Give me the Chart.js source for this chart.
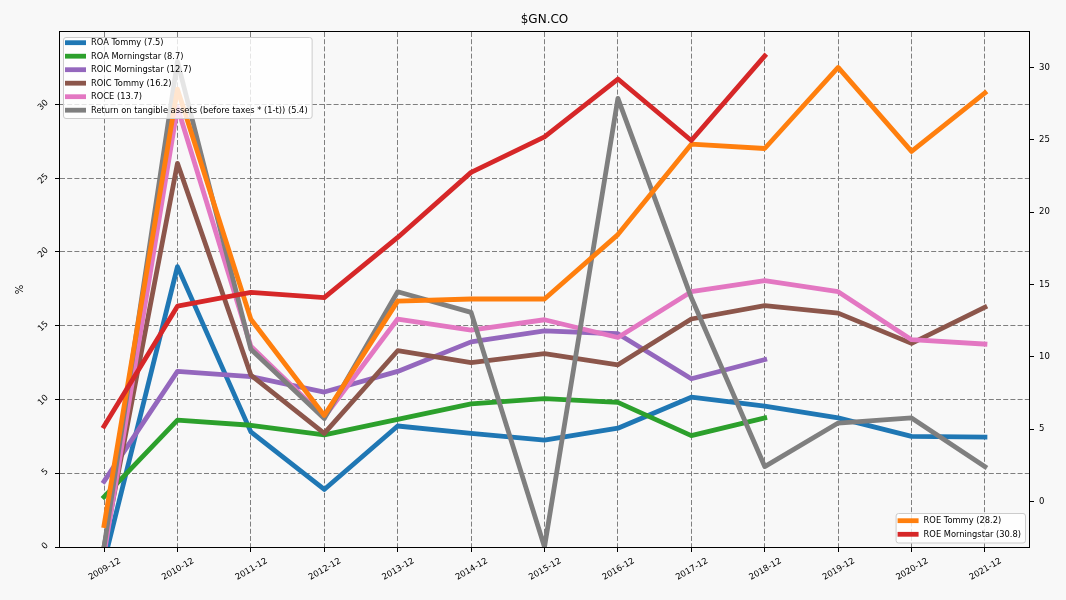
<!DOCTYPE html>
<html>
<head>
<meta charset="utf-8">
<script src="https://cdn.jsdelivr.net/npm/chart.js@4.4.1/dist/chart.umd.min.js"></script>
<style>
html, body { margin: 0; padding: 0; background: #f8f8f8; }
#wrap { width: 1066px; height: 600px; position: relative; }
</style>
</head>
<body>
<div id="wrap"><canvas id="c" width="1066" height="600"></canvas></div>
<script>
// ---- data ----
const chartTitle = '$GN.CO';
const categories = ['2009-12','2010-12','2011-12','2012-12','2013-12','2014-12','2015-12','2016-12','2017-12','2018-12','2019-12','2020-12','2021-12'];
const leftTicks = [0, 5, 10, 15, 20, 25, 30];
const rightTicks = [0, 5, 10, 15, 20, 25, 30];

const roaTommy        = [-1.0, 19.0, 7.8, 3.9, 8.2, 7.7, 7.25, 8.05, 10.15, 9.55, 8.75, 7.5, 7.45];
const roaMorningstar  = [3.4, 8.6, 8.25, 7.6, 8.65, 9.7, 10.05, 9.8, 7.55, 8.75, null, null, null];
const roicMorningstar = [4.45, 11.9, 11.55, 10.5, 11.9, 13.9, 14.65, 14.45, 11.4, 12.7, null, null, null];
const roicTommy       = [0.0, 26.0, 11.65, 7.7, 13.3, 12.5, 13.1, 12.35, 15.45, 16.35, 15.85, 13.8, 16.25];
const roce            = [-0.5, 29.8, 13.6, 8.8, 15.45, 14.7, 15.4, 14.2, 17.3, 18.05, 17.3, 14.05, 13.75];
const rota            = [0.0, 32.9, 13.4, 8.7, 17.3, 15.9, 0.0, 30.4, 16.9, 5.45, 8.4, 8.75, 5.45];
const roeTommy        = [-1.65, 28.5, 12.6, 5.95, 13.85, 14.0, 14.0, 18.45, 24.7, 24.4, 30.0, 24.2, 28.25];
const roeMorningstar  = [5.2, 13.5, 14.45, 14.1, 18.25, 22.75, 25.2, 29.2, 24.95, 30.8, null, null, null];

const leftLabels  = ['ROA Tommy (7.5)', 'ROA Morningstar (8.7)', 'ROIC Morningstar (12.7)', 'ROIC Tommy (16.2)', 'ROCE (13.7)', 'Return on tangible assets (before taxes * (1-t)) (5.4)'];
const rightLabels = ['ROE Tommy (28.2)', 'ROE Morningstar (30.8)'];
const yAxisTitle = '%';

// ---- styling ----
const FONT = "'DejaVu Sans', 'Liberation Sans', sans-serif";
const BG = '#f8f8f8';
const leftColors  = ['#1f77b4', '#2ca02c', '#9467bd', '#8c564b', '#e377c2', '#7f7f7f'];
const rightColors = ['#ff7f0e', '#d62728'];
const LW = 4.8;
const LEG_FONT = 8.3;
const TICK_FONT = 8.5;

const leftSeries  = [roaTommy, roaMorningstar, roicMorningstar, roicTommy, roce, rota];
const rightSeries = [roeTommy, roeMorningstar];

function mk(label, data, color, axis, order) {
  return {
    label, data, borderColor: color, backgroundColor: color,
    borderWidth: LW, pointRadius: 0, pointHoverRadius: 0, fill: false, tension: 0,
    yAxisID: axis, order, clip: 0, borderJoinStyle: 'round', borderCapStyle: 'square', spanGaps: false
  };
}
const datasets = [];
let ord = 20;
leftSeries.forEach((s, i) => datasets.push(mk(leftLabels[i], s, leftColors[i], 'y', ord--)));
rightSeries.forEach((s, i) => datasets.push(mk(rightLabels[i], s, rightColors[i], 'y1', ord--)));

function drawLegend(ctx, box, labels, colors, rowY0, rowH) {
  ctx.save();
  ctx.font = LEG_FONT + 'px ' + FONT;
  ctx.beginPath();
  ctx.roundRect(box.x + 0.5, box.y + 0.5, box.w, box.h, 2.5);
  ctx.fillStyle = 'rgba(255,255,255,0.8)';
  ctx.fill();
  ctx.strokeStyle = '#cccccc';
  ctx.lineWidth = 1;
  ctx.stroke();
  labels.forEach((lab, i) => {
    const yy = rowY0 + i * rowH;
    ctx.beginPath();
    ctx.moveTo(box.x + 2, yy);
    ctx.lineTo(box.x + 23, yy);
    ctx.strokeStyle = colors[i];
    ctx.lineWidth = LW;
    ctx.lineCap = 'butt';
    ctx.stroke();
    ctx.fillStyle = '#000';
    ctx.textBaseline = 'middle';
    ctx.textAlign = 'left';
    ctx.fillText(lab, box.x + 28, yy + 0.5);
  });
  ctx.restore();
}

const extras = {
  id: 'extras',
  beforeDraw(chart) {
    const ctx = chart.ctx;
    ctx.save();
    ctx.fillStyle = BG;
    ctx.fillRect(0, 0, chart.width, chart.height);
    ctx.restore();
  },
  afterDatasetsDraw(chart) {
    const ctx = chart.ctx;
    const a = chart.chartArea;
    ctx.save();
    ctx.font = LEG_FONT + 'px ' + FONT;
    const w1 = Math.max(...leftLabels.map(l => ctx.measureText(l).width));
    const w2 = Math.max(...rightLabels.map(l => ctx.measureText(l).width));
    ctx.restore();
    drawLegend(ctx, {x: a.left + 3, y: a.top + 5, w: 28 + w1 + 4, h: 81}, leftLabels, leftColors, a.top + 10.7, 13.5);
    const bw = 28 + w2 + 4;
    drawLegend(ctx, {x: a.right - 4 - bw, y: a.bottom - 34, w: bw, h: 29.5}, rightLabels, rightColors, a.bottom - 26.3, 13.6);
    // frame
    ctx.save();
    ctx.strokeStyle = '#000';
    ctx.lineWidth = 1;
    ctx.strokeRect(Math.round(a.left) - 0.5, Math.round(a.top) - 0.5, Math.round(a.right - a.left) + 1, Math.round(a.bottom - a.top) + 1);
    // title centred over the plot area
    ctx.fillStyle = '#000';
    ctx.font = '12px ' + FONT;
    ctx.textAlign = 'center';
    ctx.textBaseline = 'middle';
    ctx.fillText(chartTitle, (a.left + a.right) / 2, 20);
    ctx.restore();
  }
};

const gridCommon = { color: '#7f7f7f', lineWidth: 1, tickLength: 5, tickColor: '#000', tickWidth: 1, tickBorderDash: [] };

new Chart(document.getElementById('c'), {
  type: 'line',
  data: { labels: categories.map((_, i) => i), datasets },
  options: {
    responsive: false,
    animation: false,
    devicePixelRatio: 1,
    events: [],
    layout: { padding: { top: 32, left: 0, right: 0, bottom: 0 } },
    plugins: {
      legend: { display: false },
      tooltip: { enabled: false },
      title: { display: false }
    },
    scales: {
      x: {
        type: 'linear', min: -0.6, max: 12.6,
        afterBuildTicks: s => { s.ticks = categories.map((_, i) => ({ value: i })); },
        afterFit: s => { s.height = 53; },
        ticks: {
          callback: v => categories[v], autoSkip: false, minRotation: 30, maxRotation: 30,
          color: '#000', font: { family: FONT, size: TICK_FONT }, padding: 4, labelOffset: 16
        },
        grid: Object.assign({ drawOnChartArea: true }, gridCommon),
        border: { display: false, dash: [5, 2.2] }
      },
      y: {
        type: 'linear', position: 'left', min: 0, max: 34.9,
        afterBuildTicks: s => { s.ticks = leftTicks.map(v => ({ value: v })); },
        afterFit: s => { s.width = 60; },
        ticks: {
          color: '#000', font: { family: FONT, size: TICK_FONT }, padding: 8,
          minRotation: 45, maxRotation: 45, labelOffset: -3
        },
        grid: Object.assign({ drawOnChartArea: true }, gridCommon),
        border: { display: false, dash: [5, 2.2] },
        title: { display: true, text: yAxisTitle, color: '#000', font: { family: FONT, size: 10 }, padding: { top: 14, bottom: 0 } }
      },
      y1: {
        type: 'linear', position: 'right', min: -3.14, max: 32.45,
        afterBuildTicks: s => { s.ticks = rightTicks.map(v => ({ value: v })); },
        afterFit: s => { s.width = 37; },
        ticks: { color: '#000', font: { family: FONT, size: TICK_FONT }, padding: 5 },
        grid: Object.assign({ drawOnChartArea: false }, gridCommon),
        border: { display: false }
      }
    }
  },
  plugins: [extras]
});
</script>
</body>
</html>
